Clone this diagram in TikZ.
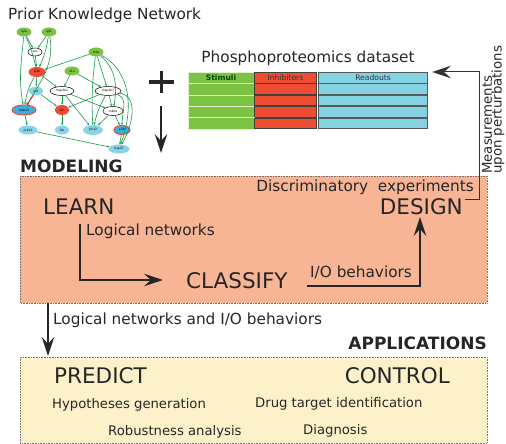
\documentclass[tikz,border=0pt]{standalone}
\usepackage{fontspec}
\setmainfont{DejaVu Sans}
\usetikzlibrary{arrows.meta,shapes.geometric,calc}
\definecolor{ngreen}{HTML}{7CC242}
\definecolor{nred}{HTML}{EE4A32}
\definecolor{nblue}{HTML}{88D3E6}
\definecolor{nblue2}{HTML}{3BB0E0}
\definecolor{egreen}{HTML}{129A4A}
\definecolor{salmon}{HTML}{F7B595}
\definecolor{pale}{HTML}{FDF1C9}
\definecolor{tgreen}{HTML}{7DC243}
\definecolor{tred}{HTML}{EE4C33}
\definecolor{tblue}{HTML}{84D2E2}
\tikzset{
  nd/.style={ellipse,inner sep=0pt,minimum height=9pt,font=\fontsize{3}{3.5}\selectfont},
  gn/.style={nd,fill=ngreen,minimum width=15pt},
  wn/.style={nd,fill=white,draw=black,line width=0.5pt},
  rn/.style={nd,fill=nred,minimum width=16pt},
  bn/.style={nd,fill=nblue,minimum width=17pt},
  brn/.style={nd,fill=nblue2,draw=nred,line width=1pt},
  ed/.style={draw=egreen,line width=0.6pt,-{Stealth[length=2.5pt,width=2pt]}},
  inh/.style={draw=red,line width=0.6pt,-{Bar[width=3pt]}},
  bigtip/.style={-{Stealth[length=19pt,width=12.5pt,inset=7pt]}},
  bigarrow/.style={draw=black!85,line width=1.1pt,bigtip},
  lbl/.style={inner sep=0pt,font=\fontsize{15.3}{17}\selectfont,text=black!85},
  big/.style={inner sep=0pt,font=\fontsize{21.5}{23}\selectfont,text=black!85},
  small/.style={inner sep=0pt,font=\fontsize{13.2}{15}\selectfont,text=black!85},
  head/.style={inner sep=0pt,font=\fontsize{17}{19}\selectfont\bfseries,text=black!85},
  box/.style={draw=black!55,densely dotted,line width=0.6pt},
}
\begin{document}
\begin{tikzpicture}[x=1pt,y=-1pt]
\useasboundingbox (0,0) rectangle (506,444);
% title
\node[lbl,anchor=west] (pkn) at (8,15) {Prior Knowledge Network};
% network nodes
\node[gn] (tgfa) at (24,32) {tgfa};
\node[gn] (igf1) at (49,32) {igf1};
\node[wn,minimum width=14pt,minimum height=8pt] (sos) at (35,52) {sos};
\node[gn] (tnfa) at (96,52) {tnfa};
\node[rn,minimum width=17pt,minimum height=10pt] (pi3k) at (37,72) {pi3k};
\node[gn] (il1a) at (72,71) {il1a};
\node[bn,minimum width=14pt] (akt) at (36,91) {akt};
\node[wn,minimum width=24pt] (map3k1) at (62,91) {map3k1};
\node[wn,minimum width=26pt] (map3k7) at (108,91) {map3k7};
\node[brn,minimum width=24pt,minimum height=10pt] (mek12) at (24,110) {mek12};
\node[rn,minimum width=14pt,minimum height=10pt] (ikk) at (62,110) {ikk};
\node[wn,minimum width=20pt] (mkk4) at (113,111) {mkk4};
\node[bn,minimum width=19pt] (erk12) at (28,130) {erk12};
\node[bn,minimum width=14pt] (ikb) at (62,130) {ikb};
\node[bn,minimum width=20pt,minimum height=10pt] (jnk12) at (93,130) {jnk12};
\node[brn,minimum width=16pt] (p38) at (122,130) {p38};
\node[bn,minimum width=21pt] (hsp27) at (119,149) {hsp27};
% edges
\draw[ed] (tgfa) -- (sos);
\draw[ed] (tgfa) to[bend left=5] (pi3k);
\draw[ed] (tgfa) to[out=-95,in=100] (mek12);
\draw[ed] (igf1) -- (sos);
\draw[ed] (igf1) to[bend left=8] (pi3k);
\draw[ed] (igf1) to[out=-80,in=60] (mek12);
\draw[ed] (sos) -- (pi3k);
\draw[ed] (tnfa) -- (pi3k);
\draw[ed] (tnfa) -- (map3k7);
\draw[ed] (tnfa) to[bend right=5] (jnk12);
\draw[ed] (tnfa) to[out=-40,in=80] (mkk4);
\draw[ed] (tnfa) to[out=-30,in=70] (hsp27);
\draw[ed] (il1a) -- (map3k1);
\draw[ed] (il1a) -- (map3k7);
\draw[ed] (pi3k) -- (akt);
\draw[ed] (pi3k) -- (map3k1);
\draw[ed] (pi3k) to[bend right=10] (mek12);
\draw[inh] (akt) -- (mek12);
\draw[ed] (akt) -- (ikk);
\draw[ed] (map3k1) -- (ikk);
\draw[ed] (map3k1) -- (jnk12);
\draw[ed] (map3k1) -- (mkk4);
\draw[ed] (map3k7) -- (ikk);
\draw[ed] (map3k7) to[bend right=8] (jnk12);
\draw[ed] (map3k7) -- (mkk4);
\draw[ed] (map3k7) to[out=-20,in=90] (p38);
\draw[ed] (map3k7) to[out=-10,in=60] (hsp27);
\draw[ed] (mek12) -- (erk12);
\draw[ed] (ikk) -- (ikb);
\draw[ed] (mkk4) -- (jnk12);
\draw[ed] (mkk4) -- (p38);
\draw[ed] (erk12) -- (hsp27);
\draw[ed] (p38) -- (hsp27);
% plus and down arrow
\node[inner sep=0pt,minimum size=1pt] (plus) at (161,82) {};
\draw[line width=3pt,black!85] ($(plus)+(-12.5,0)$) -- ($(plus)+(12.5,0)$);
\draw[line width=3pt,black!85] ($(plus)+(0,-11)$) -- ($(plus)+(0,11)$);
\coordinate (da1) at (161,106);
\coordinate (da2) at (161,153);
\draw[bigarrow] (da1) -- (da2);
% dataset
\node[lbl] (dtitle) at (308,58) {Phosphoproteomics dataset};
\foreach \i in {0,...,4}{
  \pgfmathsetmacro{\ya}{72+\i*11.4}
  \pgfmathsetmacro{\yb}{72+(\i+1)*11.4}
  \fill[tgreen] (188,\ya) rectangle (254,\yb);
  \draw[white!75!tgreen,line width=0.6pt] (188,\ya) rectangle (254,\yb);
  \draw[fill=tred,draw=black!75,line width=0.8pt] (254.5,\ya+0.4) rectangle (316.5,\yb-0.4);
  \draw[fill=tblue,draw=black!65,line width=0.8pt] (318.5,\ya+0.4) rectangle (427.5,\yb-0.4);
}
\node[inner sep=0pt,font=\fontsize{7.6}{8}\selectfont\bfseries,text=black!70!green] (stim) at (221,77.7) {Stimuli};
\node[inner sep=0pt,font=\fontsize{7.6}{8}\selectfont,text=black!80] (inhib) at (285.5,77.7) {Inhibitors};
\node[inner sep=0pt,font=\fontsize{7.6}{8}\selectfont,text=black!80] (read) at (373,77.7) {Readouts};
% modeling
\node[head,anchor=west] (modeling) at (20,166) {MODELING};
\draw[box,fill=salmon] (20,176) rectangle (487,303);
\node[lbl,anchor=east] (disc) at (474,187) {Discriminatory\ \ experiments};
\node[big,anchor=west] (learn) at (43,207) {LEARN};
\node[big,anchor=east] (design) at (463,207) {DESIGN};
\node[lbl,anchor=west] (lognet) at (86,231) {Logical networks};
\node[big,anchor=west] (classify) at (186,281) {CLASSIFY};
\node[lbl,anchor=west] (iob) at (310,272) {I/O behaviors};
\coordinate (l1) at (80,224);
\coordinate (l2) at (80,280);
\coordinate (l3) at (163,280);
\draw[bigarrow] (l1) -- (l2) -- (l3);
\coordinate (c1) at (307,286);
\coordinate (c2) at (420,286);
\coordinate (c3) at (420,217);
\draw[bigarrow] (c1) -- (c2) -- (c3);
% measurements
\coordinate (m1) at (465,199);
\coordinate (m2) at (479,199);
\coordinate (m3) at (479,72);
\coordinate (m4) at (432,72);
\draw[draw=black!80,line width=1pt,bigtip] (m1) -- (m2) -- (m3) -- (m4);
\node[lbl,rotate=90,anchor=west,font=\fontsize{13.3}{14}\selectfont] (meas) at (487,174) {Measurements};
\node[lbl,rotate=90,anchor=west,font=\fontsize{13.3}{14}\selectfont] (upon) at (498,174) {upon perturbations};
% applications
\coordinate (a1) at (48,303);
\coordinate (a2) at (48,356);
\draw[bigarrow] (a1) -- (a2);
\node[lbl,anchor=west] (lnio) at (53,320) {Logical networks and I/O behaviors};
\node[head,anchor=east] (apps) at (487,343) {APPLICATIONS};
\draw[box,fill=pale] (20,357) rectangle (487,443);
\node[big,anchor=west] (predict) at (54,376) {PREDICT};
\node[big,anchor=east] (control) at (450,376) {CONTROL};
\node[small,anchor=west] (hyp) at (52,405) {Hypotheses generation};
\node[small,anchor=west] (drug) at (255,404) {Drug target identification};
\node[small,anchor=west] (rob) at (108,432) {Robustness analysis};
\node[small,anchor=west] (diag) at (303,431) {Diagnosis};
\end{tikzpicture}
\end{document}
